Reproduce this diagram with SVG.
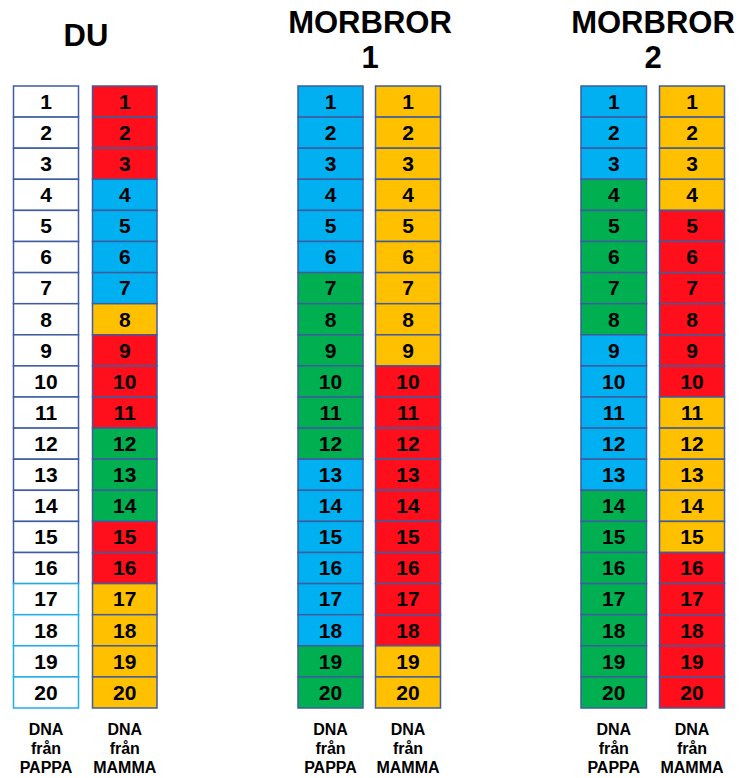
<svg xmlns="http://www.w3.org/2000/svg" width="740" height="778" viewBox="0 0 740 778">
<style>
.t{font-family:"Liberation Sans",Arial,sans-serif;font-weight:bold;font-size:31px;text-anchor:middle;fill:#000}
.n{font-family:"Liberation Sans",Arial,sans-serif;font-weight:bold;font-size:21px;text-anchor:middle;fill:#000}
.l{font-family:"Liberation Sans",Arial,sans-serif;font-weight:bold;font-size:16px;text-anchor:middle;fill:#000}
.c rect{stroke:#3E5C9E;stroke-width:1.5}
.w{fill:#fff}.c .lb{stroke:#1DADEB}
.r{fill:#FF0E1C}.b{fill:#00B0F0}.y{fill:#FFC000}.g{fill:#00B050}
</style>
<rect width="740" height="778" fill="#fff"/>
<g id="titles">
<text class="t" x="86" y="46">DU</text>
<text class="t" x="370" y="33">MORBROR</text>
<text class="t" x="370" y="68">1</text>
<text class="t" x="653" y="33">MORBROR</text>
<text class="t" x="653" y="68">2</text>
</g>
<g id="du-pappa" class="c">
<rect class="w" x="13.5" y="86" width="65" height="31.1"/>
<rect class="w" x="13.5" y="117.1" width="65" height="31.1"/>
<rect class="w" x="13.5" y="148.2" width="65" height="31.1"/>
<rect class="w" x="13.5" y="179.3" width="65" height="31.1"/>
<rect class="w" x="13.5" y="210.4" width="65" height="31.1"/>
<rect class="w" x="13.5" y="241.5" width="65" height="31.1"/>
<rect class="w" x="13.5" y="272.6" width="65" height="31.1"/>
<rect class="w" x="13.5" y="303.7" width="65" height="31.1"/>
<rect class="w" x="13.5" y="334.8" width="65" height="31.1"/>
<rect class="w" x="13.5" y="365.9" width="65" height="31.1"/>
<rect class="w" x="13.5" y="397" width="65" height="31.1"/>
<rect class="w" x="13.5" y="428.1" width="65" height="31.1"/>
<rect class="w" x="13.5" y="459.2" width="65" height="31.1"/>
<rect class="w" x="13.5" y="490.3" width="65" height="31.1"/>
<rect class="w" x="13.5" y="521.4" width="65" height="31.1"/>
<rect class="w" x="13.5" y="552.5" width="65" height="31.1"/>
<rect class="w lb" x="13.5" y="583.6" width="65" height="31.1"/>
<rect class="w lb" x="13.5" y="614.7" width="65" height="31.1"/>
<rect class="w lb" x="13.5" y="645.8" width="65" height="31.1"/>
<rect class="w lb" x="13.5" y="676.9" width="65" height="31.1"/>
</g>
<g id="du-mamma" class="c">
<rect class="r" x="92.5" y="86" width="64.5" height="31.1"/>
<rect class="r" x="92.5" y="117.1" width="64.5" height="31.1"/>
<rect class="r" x="92.5" y="148.2" width="64.5" height="31.1"/>
<rect class="b" x="92.5" y="179.3" width="64.5" height="31.1"/>
<rect class="b" x="92.5" y="210.4" width="64.5" height="31.1"/>
<rect class="b" x="92.5" y="241.5" width="64.5" height="31.1"/>
<rect class="b" x="92.5" y="272.6" width="64.5" height="31.1"/>
<rect class="y" x="92.5" y="303.7" width="64.5" height="31.1"/>
<rect class="r" x="92.5" y="334.8" width="64.5" height="31.1"/>
<rect class="r" x="92.5" y="365.9" width="64.5" height="31.1"/>
<rect class="r" x="92.5" y="397" width="64.5" height="31.1"/>
<rect class="g" x="92.5" y="428.1" width="64.5" height="31.1"/>
<rect class="g" x="92.5" y="459.2" width="64.5" height="31.1"/>
<rect class="g" x="92.5" y="490.3" width="64.5" height="31.1"/>
<rect class="r" x="92.5" y="521.4" width="64.5" height="31.1"/>
<rect class="r" x="92.5" y="552.5" width="64.5" height="31.1"/>
<rect class="y" x="92.5" y="583.6" width="64.5" height="31.1"/>
<rect class="y" x="92.5" y="614.7" width="64.5" height="31.1"/>
<rect class="y" x="92.5" y="645.8" width="64.5" height="31.1"/>
<rect class="y" x="92.5" y="676.9" width="64.5" height="31.1"/>
</g>
<g id="m1-pappa" class="c">
<rect class="b" x="298" y="86" width="65" height="31.1"/>
<rect class="b" x="298" y="117.1" width="65" height="31.1"/>
<rect class="b" x="298" y="148.2" width="65" height="31.1"/>
<rect class="b" x="298" y="179.3" width="65" height="31.1"/>
<rect class="b" x="298" y="210.4" width="65" height="31.1"/>
<rect class="b" x="298" y="241.5" width="65" height="31.1"/>
<rect class="g" x="298" y="272.6" width="65" height="31.1"/>
<rect class="g" x="298" y="303.7" width="65" height="31.1"/>
<rect class="g" x="298" y="334.8" width="65" height="31.1"/>
<rect class="g" x="298" y="365.9" width="65" height="31.1"/>
<rect class="g" x="298" y="397" width="65" height="31.1"/>
<rect class="g" x="298" y="428.1" width="65" height="31.1"/>
<rect class="b" x="298" y="459.2" width="65" height="31.1"/>
<rect class="b" x="298" y="490.3" width="65" height="31.1"/>
<rect class="b" x="298" y="521.4" width="65" height="31.1"/>
<rect class="b" x="298" y="552.5" width="65" height="31.1"/>
<rect class="b" x="298" y="583.6" width="65" height="31.1"/>
<rect class="b" x="298" y="614.7" width="65" height="31.1"/>
<rect class="g" x="298" y="645.8" width="65" height="31.1"/>
<rect class="g" x="298" y="676.9" width="65" height="31.1"/>
</g>
<g id="m1-mamma" class="c">
<rect class="y" x="375.5" y="86" width="65" height="31.1"/>
<rect class="y" x="375.5" y="117.1" width="65" height="31.1"/>
<rect class="y" x="375.5" y="148.2" width="65" height="31.1"/>
<rect class="y" x="375.5" y="179.3" width="65" height="31.1"/>
<rect class="y" x="375.5" y="210.4" width="65" height="31.1"/>
<rect class="y" x="375.5" y="241.5" width="65" height="31.1"/>
<rect class="y" x="375.5" y="272.6" width="65" height="31.1"/>
<rect class="y" x="375.5" y="303.7" width="65" height="31.1"/>
<rect class="y" x="375.5" y="334.8" width="65" height="31.1"/>
<rect class="r" x="375.5" y="365.9" width="65" height="31.1"/>
<rect class="r" x="375.5" y="397" width="65" height="31.1"/>
<rect class="r" x="375.5" y="428.1" width="65" height="31.1"/>
<rect class="r" x="375.5" y="459.2" width="65" height="31.1"/>
<rect class="r" x="375.5" y="490.3" width="65" height="31.1"/>
<rect class="r" x="375.5" y="521.4" width="65" height="31.1"/>
<rect class="r" x="375.5" y="552.5" width="65" height="31.1"/>
<rect class="r" x="375.5" y="583.6" width="65" height="31.1"/>
<rect class="r" x="375.5" y="614.7" width="65" height="31.1"/>
<rect class="y" x="375.5" y="645.8" width="65" height="31.1"/>
<rect class="y" x="375.5" y="676.9" width="65" height="31.1"/>
</g>
<g id="m2-pappa" class="c">
<rect class="b" x="581" y="86" width="65.5" height="31.1"/>
<rect class="b" x="581" y="117.1" width="65.5" height="31.1"/>
<rect class="b" x="581" y="148.2" width="65.5" height="31.1"/>
<rect class="g" x="581" y="179.3" width="65.5" height="31.1"/>
<rect class="g" x="581" y="210.4" width="65.5" height="31.1"/>
<rect class="g" x="581" y="241.5" width="65.5" height="31.1"/>
<rect class="g" x="581" y="272.6" width="65.5" height="31.1"/>
<rect class="g" x="581" y="303.7" width="65.5" height="31.1"/>
<rect class="b" x="581" y="334.8" width="65.5" height="31.1"/>
<rect class="b" x="581" y="365.9" width="65.5" height="31.1"/>
<rect class="b" x="581" y="397" width="65.5" height="31.1"/>
<rect class="b" x="581" y="428.1" width="65.5" height="31.1"/>
<rect class="b" x="581" y="459.2" width="65.5" height="31.1"/>
<rect class="g" x="581" y="490.3" width="65.5" height="31.1"/>
<rect class="g" x="581" y="521.4" width="65.5" height="31.1"/>
<rect class="g" x="581" y="552.5" width="65.5" height="31.1"/>
<rect class="g" x="581" y="583.6" width="65.5" height="31.1"/>
<rect class="g" x="581" y="614.7" width="65.5" height="31.1"/>
<rect class="g" x="581" y="645.8" width="65.5" height="31.1"/>
<rect class="g" x="581" y="676.9" width="65.5" height="31.1"/>
</g>
<g id="m2-mamma" class="c">
<rect class="y" x="659.5" y="86" width="65" height="31.1"/>
<rect class="y" x="659.5" y="117.1" width="65" height="31.1"/>
<rect class="y" x="659.5" y="148.2" width="65" height="31.1"/>
<rect class="y" x="659.5" y="179.3" width="65" height="31.1"/>
<rect class="r" x="659.5" y="210.4" width="65" height="31.1"/>
<rect class="r" x="659.5" y="241.5" width="65" height="31.1"/>
<rect class="r" x="659.5" y="272.6" width="65" height="31.1"/>
<rect class="r" x="659.5" y="303.7" width="65" height="31.1"/>
<rect class="r" x="659.5" y="334.8" width="65" height="31.1"/>
<rect class="r" x="659.5" y="365.9" width="65" height="31.1"/>
<rect class="y" x="659.5" y="397" width="65" height="31.1"/>
<rect class="y" x="659.5" y="428.1" width="65" height="31.1"/>
<rect class="y" x="659.5" y="459.2" width="65" height="31.1"/>
<rect class="y" x="659.5" y="490.3" width="65" height="31.1"/>
<rect class="y" x="659.5" y="521.4" width="65" height="31.1"/>
<rect class="r" x="659.5" y="552.5" width="65" height="31.1"/>
<rect class="r" x="659.5" y="583.6" width="65" height="31.1"/>
<rect class="r" x="659.5" y="614.7" width="65" height="31.1"/>
<rect class="r" x="659.5" y="645.8" width="65" height="31.1"/>
<rect class="r" x="659.5" y="676.9" width="65" height="31.1"/>
</g>
<g id="numbers">
<g id="num-du-pappa" transform="translate(46 0)">
<text class="n" x="0" y="108.8">1</text><text class="n" x="0" y="139.9">2</text><text class="n" x="0" y="171">3</text><text class="n" x="0" y="202.1">4</text><text class="n" x="0" y="233.2">5</text><text class="n" x="0" y="264.3">6</text><text class="n" x="0" y="295.4">7</text><text class="n" x="0" y="326.5">8</text><text class="n" x="0" y="357.6">9</text><text class="n" x="0" y="388.7">10</text><text class="n" x="0" y="419.8">11</text><text class="n" x="0" y="450.9">12</text><text class="n" x="0" y="482">13</text><text class="n" x="0" y="513.1">14</text><text class="n" x="0" y="544.2">15</text><text class="n" x="0" y="575.3">16</text><text class="n" x="0" y="606.4">17</text><text class="n" x="0" y="637.5">18</text><text class="n" x="0" y="668.6">19</text><text class="n" x="0" y="699.7">20</text>
</g>
<g id="num-du-mamma" transform="translate(124.75 0)">
<text class="n" x="0" y="108.8">1</text><text class="n" x="0" y="139.9">2</text><text class="n" x="0" y="171">3</text><text class="n" x="0" y="202.1">4</text><text class="n" x="0" y="233.2">5</text><text class="n" x="0" y="264.3">6</text><text class="n" x="0" y="295.4">7</text><text class="n" x="0" y="326.5">8</text><text class="n" x="0" y="357.6">9</text><text class="n" x="0" y="388.7">10</text><text class="n" x="0" y="419.8">11</text><text class="n" x="0" y="450.9">12</text><text class="n" x="0" y="482">13</text><text class="n" x="0" y="513.1">14</text><text class="n" x="0" y="544.2">15</text><text class="n" x="0" y="575.3">16</text><text class="n" x="0" y="606.4">17</text><text class="n" x="0" y="637.5">18</text><text class="n" x="0" y="668.6">19</text><text class="n" x="0" y="699.7">20</text>
</g>
<g id="num-m1-pappa" transform="translate(330.5 0)">
<text class="n" x="0" y="108.8">1</text><text class="n" x="0" y="139.9">2</text><text class="n" x="0" y="171">3</text><text class="n" x="0" y="202.1">4</text><text class="n" x="0" y="233.2">5</text><text class="n" x="0" y="264.3">6</text><text class="n" x="0" y="295.4">7</text><text class="n" x="0" y="326.5">8</text><text class="n" x="0" y="357.6">9</text><text class="n" x="0" y="388.7">10</text><text class="n" x="0" y="419.8">11</text><text class="n" x="0" y="450.9">12</text><text class="n" x="0" y="482">13</text><text class="n" x="0" y="513.1">14</text><text class="n" x="0" y="544.2">15</text><text class="n" x="0" y="575.3">16</text><text class="n" x="0" y="606.4">17</text><text class="n" x="0" y="637.5">18</text><text class="n" x="0" y="668.6">19</text><text class="n" x="0" y="699.7">20</text>
</g>
<g id="num-m1-mamma" transform="translate(408 0)">
<text class="n" x="0" y="108.8">1</text><text class="n" x="0" y="139.9">2</text><text class="n" x="0" y="171">3</text><text class="n" x="0" y="202.1">4</text><text class="n" x="0" y="233.2">5</text><text class="n" x="0" y="264.3">6</text><text class="n" x="0" y="295.4">7</text><text class="n" x="0" y="326.5">8</text><text class="n" x="0" y="357.6">9</text><text class="n" x="0" y="388.7">10</text><text class="n" x="0" y="419.8">11</text><text class="n" x="0" y="450.9">12</text><text class="n" x="0" y="482">13</text><text class="n" x="0" y="513.1">14</text><text class="n" x="0" y="544.2">15</text><text class="n" x="0" y="575.3">16</text><text class="n" x="0" y="606.4">17</text><text class="n" x="0" y="637.5">18</text><text class="n" x="0" y="668.6">19</text><text class="n" x="0" y="699.7">20</text>
</g>
<g id="num-m2-pappa" transform="translate(613.75 0)">
<text class="n" x="0" y="108.8">1</text><text class="n" x="0" y="139.9">2</text><text class="n" x="0" y="171">3</text><text class="n" x="0" y="202.1">4</text><text class="n" x="0" y="233.2">5</text><text class="n" x="0" y="264.3">6</text><text class="n" x="0" y="295.4">7</text><text class="n" x="0" y="326.5">8</text><text class="n" x="0" y="357.6">9</text><text class="n" x="0" y="388.7">10</text><text class="n" x="0" y="419.8">11</text><text class="n" x="0" y="450.9">12</text><text class="n" x="0" y="482">13</text><text class="n" x="0" y="513.1">14</text><text class="n" x="0" y="544.2">15</text><text class="n" x="0" y="575.3">16</text><text class="n" x="0" y="606.4">17</text><text class="n" x="0" y="637.5">18</text><text class="n" x="0" y="668.6">19</text><text class="n" x="0" y="699.7">20</text>
</g>
<g id="num-m2-mamma" transform="translate(692 0)">
<text class="n" x="0" y="108.8">1</text><text class="n" x="0" y="139.9">2</text><text class="n" x="0" y="171">3</text><text class="n" x="0" y="202.1">4</text><text class="n" x="0" y="233.2">5</text><text class="n" x="0" y="264.3">6</text><text class="n" x="0" y="295.4">7</text><text class="n" x="0" y="326.5">8</text><text class="n" x="0" y="357.6">9</text><text class="n" x="0" y="388.7">10</text><text class="n" x="0" y="419.8">11</text><text class="n" x="0" y="450.9">12</text><text class="n" x="0" y="482">13</text><text class="n" x="0" y="513.1">14</text><text class="n" x="0" y="544.2">15</text><text class="n" x="0" y="575.3">16</text><text class="n" x="0" y="606.4">17</text><text class="n" x="0" y="637.5">18</text><text class="n" x="0" y="668.6">19</text><text class="n" x="0" y="699.7">20</text>
</g>
</g>
<g id="labels">
<text class="l" x="46" y="735">DNA</text><text class="l" x="46" y="754">från</text><text class="l" x="46" y="773">PAPPA</text>
<text class="l" x="124.75" y="735">DNA</text><text class="l" x="124.75" y="754">från</text><text class="l" x="124.75" y="773">MAMMA</text>
<text class="l" x="330.5" y="735">DNA</text><text class="l" x="330.5" y="754">från</text><text class="l" x="330.5" y="773">PAPPA</text>
<text class="l" x="408" y="735">DNA</text><text class="l" x="408" y="754">från</text><text class="l" x="408" y="773">MAMMA</text>
<text class="l" x="613.75" y="735">DNA</text><text class="l" x="613.75" y="754">från</text><text class="l" x="613.75" y="773">PAPPA</text>
<text class="l" x="692" y="735">DNA</text><text class="l" x="692" y="754">från</text><text class="l" x="692" y="773">MAMMA</text>
</g>
</svg>
